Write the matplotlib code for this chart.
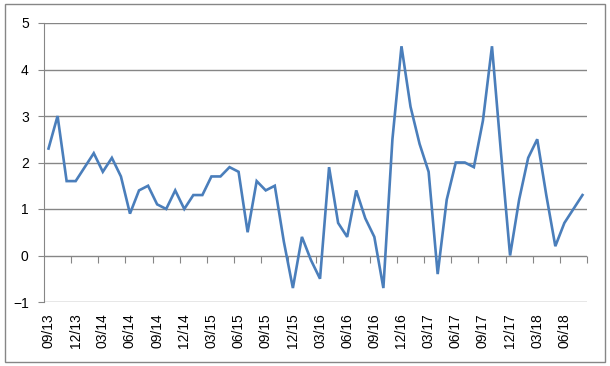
import numpy as np
import matplotlib.pyplot as plt
from matplotlib.patches import Rectangle

# monthly values, 09/13 .. 08/18
values = [2.3, 3.0, 1.6, 1.6, 1.9, 2.2, 1.8, 2.1, 1.7, 0.9,
          1.4, 1.5, 1.1, 1.0, 1.4, 1.0, 1.3, 1.3, 1.7, 1.7,
          1.9, 1.8, 0.5, 1.6, 1.4, 1.5, 0.3, -0.7, 0.4, -0.1,
          -0.5, 1.9, 0.7, 0.4, 1.4, 0.8, 0.4, -0.7, 2.5, 4.5,
          3.2, 2.4, 1.8, -0.4, 1.2, 2.0, 2.0, 1.9, 2.9, 4.5,
          2.2, 0.0, 1.2, 2.1, 2.5, 1.3, 0.2, 0.7, 1.0, 1.3]
tick_labels = ['09/13', '12/13', '03/14', '06/14', '09/14', '12/14', '03/15',
               '06/15', '09/15', '12/15', '03/16', '06/16', '09/16', '12/16',
               '03/17', '06/17', '09/17', '12/17', '03/18', '06/18']

grey = '#868686'
plt.rcParams['font.family'] = ['Liberation Sans', 'DejaVu Sans']

fig = plt.figure(figsize=(6.1, 3.66), dpi=100)
W, H = 610, 366
ax = fig.add_axes([44 / W, 1 - 302 / H, (587 - 44) / W, (302 - 23) / H])

x = np.arange(len(values))
ax.plot(x, values, color='#4A7EBB', linewidth=1.9, solid_joinstyle='miter')

ax.set_xlim(-0.5, len(values) - 0.5)
ax.set_ylim(-1, 5)
ax.set_yticks(range(-1, 6))
ax.yaxis.grid(True, color=grey, linewidth=1)
ax.set_axisbelow(True)

for s in ['top', 'right', 'bottom']:
    ax.spines[s].set_visible(False)
ax.spines['left'].set_color(grey)
ax.tick_params(axis='y', direction='out', length=4, color=grey,
               labelsize=10, pad=7)

ax.set_xticks(x[::3])
ax.set_xticklabels(tick_labels, rotation=90, fontsize=10)
ax.tick_params(axis='x', length=0, pad=8)

# category axis crossing at zero, tick marks between groups of three
sec = ax.secondary_xaxis(1 / 6)
sec.set_xticks(np.arange(2.5, len(values), 3))
sec.tick_params(axis='x', direction='out', length=5, color=grey,
                labelbottom=False, labeltop=False)
sec.spines['bottom'].set_visible(False)
sec.spines['top'].set_visible(False)

fig.patches.append(Rectangle((5 / W, 4 / H), 600 / W, 358 / H,
                             transform=fig.transFigure, fill=False,
                             edgecolor=grey, linewidth=1))

fig.savefig('out.png', dpi=100)
